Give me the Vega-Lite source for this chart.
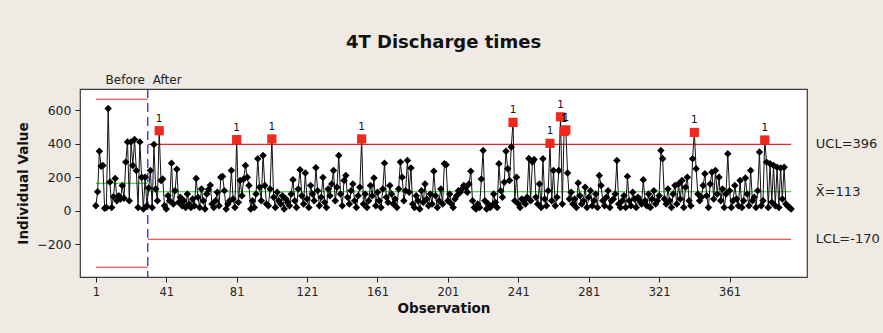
{
  "$schema": "https://vega.github.io/schema/vega-lite/v6.json",
  "autosize": "none",
  "width": 727,
  "height": 188,
  "padding": {"left": 80, "top": 89, "right": 76, "bottom": 56},
  "background": "#EFEBE4",
  "config": {
    "view": {"fill": "white", "stroke": "#3a3a3a", "strokeWidth": 1.2},
    "font": "DejaVu Sans",
    "axis": {"grid": false, "domain": false, "tickSize": 5, "tickColor": "#222", "labelFont": "DejaVu Sans", "labelColor": "#222", "labelPadding": 4, "titleFont": "DejaVu Sans", "titleFontSize": 13.5, "titleFontWeight": "bold", "titleColor": "#111"}
  },
  "title": {"text": "4T Discharge times", "fontSize": 18, "fontWeight": "bold", "font": "DejaVu Sans", "color": "#111", "offset": 22, "anchor": "middle"},
  "datasets": {
    "limits": [
      {"stage": "Before", "kind": "UCL", "obs": 1, "obs2": 30.5, "value": 665},
      {"stage": "Before", "kind": "CL", "obs": 1, "obs2": 30.5, "value": 164},
      {"stage": "Before", "kind": "LCL", "obs": 1, "obs2": 30.5, "value": -337},
      {"stage": "After", "kind": "UCL", "obs": 30.5, "obs2": 396, "value": 396},
      {"stage": "After", "kind": "CL", "obs": 30.5, "obs2": 396, "value": 113},
      {"stage": "After", "kind": "LCL", "obs": 30.5, "obs2": 396, "value": -170}
    ],
    "chart": [
      {"obs":1,"value":30},{"obs":2,"value":113},{"obs":3,"value":355},{"obs":4,"value":265},{"obs":5,"value":270},{"obs":6,"value":15},{"obs":7,"value":20},{"obs":8,"value":610},{"obs":9,"value":172},{"obs":10,"value":20},
      {"obs":11,"value":83},{"obs":12,"value":192},{"obs":13,"value":60},{"obs":14,"value":90},{"obs":15,"value":70},{"obs":16,"value":150},{"obs":17,"value":75},{"obs":18,"value":290},{"obs":19,"value":410},{"obs":20,"value":60},
      {"obs":21,"value":410},{"obs":22,"value":270},{"obs":23,"value":425},{"obs":24,"value":240},{"obs":25,"value":20},{"obs":26,"value":410},{"obs":27,"value":200},{"obs":28,"value":10},{"obs":29,"value":200},{"obs":30,"value":30},
      {"obs":31,"value":135},{"obs":32,"value":240},{"obs":33,"value":20},{"obs":34,"value":395},{"obs":35,"value":130},{"obs":36,"value":60},{"obs":37,"value":477},{"obs":38,"value":180},{"obs":39,"value":190},{"obs":40,"value":30},
      {"obs":41,"value":10},{"obs":42,"value":90},{"obs":43,"value":60},{"obs":44,"value":284},{"obs":45,"value":40},{"obs":46,"value":120},{"obs":47,"value":247},{"obs":48,"value":50},{"obs":49,"value":80},{"obs":50,"value":30},
      {"obs":51,"value":60},{"obs":52,"value":20},{"obs":53,"value":100},{"obs":54,"value":40},{"obs":55,"value":20},{"obs":56,"value":70},{"obs":57,"value":30},{"obs":58,"value":192},{"obs":59,"value":80},{"obs":60,"value":20},
      {"obs":61,"value":130},{"obs":62,"value":60},{"obs":63,"value":10},{"obs":64,"value":100},{"obs":65,"value":127},{"obs":66,"value":152},{"obs":67,"value":40},{"obs":68,"value":20},{"obs":69,"value":60},{"obs":70,"value":110},
      {"obs":71,"value":30},{"obs":72,"value":200},{"obs":73,"value":205},{"obs":74,"value":120},{"obs":75,"value":10},{"obs":76,"value":40},{"obs":77,"value":60},{"obs":78,"value":240},{"obs":79,"value":70},{"obs":80,"value":20},
      {"obs":81,"value":424},{"obs":82,"value":50},{"obs":83,"value":180},{"obs":84,"value":90},{"obs":85,"value":190},{"obs":86,"value":270},{"obs":87,"value":200},{"obs":88,"value":150},{"obs":89,"value":10},{"obs":90,"value":60},
      {"obs":91,"value":20},{"obs":92,"value":100},{"obs":93,"value":310},{"obs":94,"value":140},{"obs":95,"value":60},{"obs":96,"value":330},{"obs":97,"value":150},{"obs":98,"value":40},{"obs":99,"value":30},{"obs":100,"value":130},
      {"obs":101,"value":428},{"obs":102,"value":80},{"obs":103,"value":20},{"obs":104,"value":110},{"obs":105,"value":60},{"obs":106,"value":40},{"obs":107,"value":90},{"obs":108,"value":10},{"obs":109,"value":70},{"obs":110,"value":50},
      {"obs":111,"value":30},{"obs":112,"value":100},{"obs":113,"value":185},{"obs":114,"value":60},{"obs":115,"value":20},{"obs":116,"value":130},{"obs":117,"value":245},{"obs":118,"value":90},{"obs":119,"value":40},{"obs":120,"value":225},
      {"obs":121,"value":70},{"obs":122,"value":20},{"obs":123,"value":150},{"obs":124,"value":100},{"obs":125,"value":60},{"obs":126,"value":257},{"obs":127,"value":120},{"obs":128,"value":30},{"obs":129,"value":80},{"obs":130,"value":198},
      {"obs":131,"value":50},{"obs":132,"value":20},{"obs":133,"value":130},{"obs":134,"value":90},{"obs":135,"value":160},{"obs":136,"value":240},{"obs":137,"value":60},{"obs":138,"value":140},{"obs":139,"value":330},{"obs":140,"value":100},
      {"obs":141,"value":30},{"obs":142,"value":180},{"obs":143,"value":210},{"obs":144,"value":80},{"obs":145,"value":40},{"obs":146,"value":120},{"obs":147,"value":160},{"obs":148,"value":60},{"obs":149,"value":20},{"obs":150,"value":90},
      {"obs":151,"value":140},{"obs":152,"value":428},{"obs":153,"value":40},{"obs":154,"value":100},{"obs":155,"value":20},{"obs":156,"value":60},{"obs":157,"value":150},{"obs":158,"value":90},{"obs":159,"value":195},{"obs":160,"value":30},
      {"obs":161,"value":110},{"obs":162,"value":60},{"obs":163,"value":20},{"obs":164,"value":130},{"obs":165,"value":284},{"obs":166,"value":80},{"obs":167,"value":50},{"obs":168,"value":150},{"obs":169,"value":100},{"obs":170,"value":40},
      {"obs":171,"value":70},{"obs":172,"value":20},{"obs":173,"value":130},{"obs":174,"value":290},{"obs":175,"value":200},{"obs":176,"value":60},{"obs":177,"value":120},{"obs":178,"value":300},{"obs":179,"value":110},{"obs":180,"value":255},
      {"obs":181,"value":40},{"obs":182,"value":20},{"obs":183,"value":90},{"obs":184,"value":60},{"obs":185,"value":10},{"obs":186,"value":120},{"obs":187,"value":50},{"obs":188,"value":160},{"obs":189,"value":70},{"obs":190,"value":30},
      {"obs":191,"value":100},{"obs":192,"value":40},{"obs":193,"value":235},{"obs":194,"value":90},{"obs":195,"value":20},{"obs":196,"value":60},{"obs":197,"value":130},{"obs":198,"value":40},{"obs":199,"value":280},{"obs":200,"value":275},
      {"obs":201,"value":60},{"obs":202,"value":100},{"obs":203,"value":40},{"obs":204,"value":20},{"obs":205,"value":70},{"obs":206,"value":90},{"obs":207,"value":120},{"obs":208,"value":110},{"obs":209,"value":130},{"obs":210,"value":150},
      {"obs":211,"value":140},{"obs":212,"value":110},{"obs":213,"value":160},{"obs":214,"value":235},{"obs":215,"value":60},{"obs":216,"value":20},{"obs":217,"value":10},{"obs":218,"value":40},{"obs":219,"value":20},{"obs":220,"value":190},
      {"obs":221,"value":359},{"obs":222,"value":60},{"obs":223,"value":10},{"obs":224,"value":40},{"obs":225,"value":20},{"obs":226,"value":30},{"obs":227,"value":100},{"obs":228,"value":50},{"obs":229,"value":20},{"obs":230,"value":280},
      {"obs":231,"value":120},{"obs":232,"value":80},{"obs":233,"value":170},{"obs":234,"value":355},{"obs":235,"value":250},{"obs":236,"value":180},{"obs":237,"value":380},{"obs":238,"value":527},{"obs":239,"value":60},{"obs":240,"value":200},
      {"obs":241,"value":40},{"obs":242,"value":20},{"obs":243,"value":70},{"obs":244,"value":60},{"obs":245,"value":40},{"obs":246,"value":80},{"obs":247,"value":312},{"obs":248,"value":60},{"obs":249,"value":290},{"obs":250,"value":305},
      {"obs":251,"value":80},{"obs":252,"value":40},{"obs":253,"value":160},{"obs":254,"value":20},{"obs":255,"value":310},{"obs":256,"value":70},{"obs":257,"value":30},{"obs":258,"value":120},{"obs":259,"value":402},{"obs":260,"value":60},
      {"obs":261,"value":240},{"obs":262,"value":30},{"obs":263,"value":80},{"obs":264,"value":240},{"obs":265,"value":560},{"obs":266,"value":40},{"obs":267,"value":473},{"obs":268,"value":482},{"obs":269,"value":225},{"obs":270,"value":70},
      {"obs":271,"value":110},{"obs":272,"value":40},{"obs":273,"value":70},{"obs":274,"value":20},{"obs":275,"value":165},{"obs":276,"value":90},{"obs":277,"value":40},{"obs":278,"value":60},{"obs":279,"value":140},{"obs":280,"value":20},
      {"obs":281,"value":80},{"obs":282,"value":120},{"obs":283,"value":30},{"obs":284,"value":60},{"obs":285,"value":100},{"obs":286,"value":20},{"obs":287,"value":210},{"obs":288,"value":150},{"obs":289,"value":60},{"obs":290,"value":30},
      {"obs":291,"value":80},{"obs":292,"value":120},{"obs":293,"value":20},{"obs":294,"value":60},{"obs":295,"value":70},{"obs":296,"value":100},{"obs":297,"value":300},{"obs":298,"value":40},{"obs":299,"value":20},{"obs":300,"value":60},
      {"obs":301,"value":90},{"obs":302,"value":20},{"obs":303,"value":205},{"obs":304,"value":60},{"obs":305,"value":30},{"obs":306,"value":110},{"obs":307,"value":70},{"obs":308,"value":20},{"obs":309,"value":80},{"obs":310,"value":60},
      {"obs":311,"value":40},{"obs":312,"value":185},{"obs":313,"value":60},{"obs":314,"value":30},{"obs":315,"value":100},{"obs":316,"value":20},{"obs":317,"value":70},{"obs":318,"value":120},{"obs":319,"value":40},{"obs":320,"value":60},
      {"obs":321,"value":90},{"obs":322,"value":359},{"obs":323,"value":310},{"obs":324,"value":70},{"obs":325,"value":40},{"obs":326,"value":130},{"obs":327,"value":60},{"obs":328,"value":20},{"obs":329,"value":100},{"obs":330,"value":150},
      {"obs":331,"value":40},{"obs":332,"value":160},{"obs":333,"value":70},{"obs":334,"value":180},{"obs":335,"value":20},{"obs":336,"value":140},{"obs":337,"value":200},{"obs":338,"value":60},{"obs":339,"value":30},{"obs":340,"value":310},
      {"obs":341,"value":467},{"obs":342,"value":250},{"obs":343,"value":100},{"obs":344,"value":60},{"obs":345,"value":80},{"obs":346,"value":150},{"obs":347,"value":220},{"obs":348,"value":90},{"obs":349,"value":20},{"obs":350,"value":160},
      {"obs":351,"value":230},{"obs":352,"value":70},{"obs":353,"value":240},{"obs":354,"value":100},{"obs":355,"value":200},{"obs":356,"value":60},{"obs":357,"value":130},{"obs":358,"value":20},{"obs":359,"value":100},{"obs":360,"value":340},
      {"obs":361,"value":120},{"obs":362,"value":20},{"obs":363,"value":60},{"obs":364,"value":150},{"obs":365,"value":70},{"obs":366,"value":30},{"obs":367,"value":180},{"obs":368,"value":20},{"obs":369,"value":60},{"obs":370,"value":195},
      {"obs":371,"value":100},{"obs":372,"value":30},{"obs":373,"value":240},{"obs":374,"value":60},{"obs":375,"value":80},{"obs":376,"value":20},{"obs":377,"value":120},{"obs":378,"value":350},{"obs":379,"value":30},{"obs":380,"value":60},
      {"obs":381,"value":422},{"obs":382,"value":290},{"obs":383,"value":20},{"obs":384,"value":280},{"obs":385,"value":50},{"obs":386,"value":270},{"obs":387,"value":30},{"obs":388,"value":260},{"obs":389,"value":20},{"obs":390,"value":255},
      {"obs":391,"value":70},{"obs":392,"value":260},{"obs":393,"value":40},{"obs":394,"value":30},{"obs":395,"value":20},{"obs":396,"value":10}
    ]
  },
  "layer": [
    {
      "data": {"name": "limits"},
      "mark": {"type": "rule", "strokeWidth": 1.1},
      "encoding": {
        "x": {
          "field": "obs", "type": "quantitative",
          "scale": {"domain": [-8, 405], "nice": false, "zero": false},
          "axis": {"values": [1, 41, 81, 121, 161, 201, 241, 281, 321, 361], "title": "Observation", "labelFontSize": 11.5, "titlePadding": 4}
        },
        "x2": {"field": "obs2"},
        "y": {
          "field": "value", "type": "quantitative",
          "scale": {"domain": [-395, 726], "nice": false, "zero": false},
          "axis": {"values": [-200, 0, 200, 400, 600], "title": "Individual Value", "labelFontSize": 12.5, "titlePadding": 6}
        },
        "color": {"field": "kind", "type": "nominal", "scale": {"domain": ["UCL", "CL", "LCL"], "range": ["#D42A2F", "#22C822", "#D42A2F"]}, "legend": null}
      }
    },
    {
      "data": {"values": [{"stage": "Before", "obs": 30.5}]},
      "mark": {"type": "rule", "color": "#2233CC", "strokeDash": [9, 5], "strokeWidth": 1.3},
      "encoding": {
        "x": {"field": "obs", "type": "quantitative"}
      }
    },
    {
      "data": {"name": "chart"},
      "mark": {"type": "line", "color": "#111", "strokeWidth": 1},
      "encoding": {
        "x": {"field": "obs", "type": "quantitative"},
        "y": {"field": "value", "type": "quantitative"}
      }
    },
    {
      "data": {"name": "chart"},
      "mark": {"type": "point", "shape": "diamond", "filled": true, "color": "#000", "size": 56, "opacity": 1},
      "encoding": {
        "x": {"field": "obs", "type": "quantitative"},
        "y": {"field": "value", "type": "quantitative"}
      }
    },
    {
      "data": {"name": "chart"},
      "transform": [{"filter": "datum.obs > 30 && datum.value > 396"}],
      "mark": {"type": "square", "color": "#F0281E", "size": 85, "opacity": 1},
      "encoding": {
        "x": {"field": "obs", "type": "quantitative"},
        "y": {"field": "value", "type": "quantitative"}
      }
    },
    {
      "data": {"name": "chart"},
      "transform": [{"filter": "datum.obs > 30 && datum.value > 396"}],
      "mark": {"type": "text", "text": "1", "dy": -12, "fontSize": 10.5, "font": "DejaVu Sans", "color": "#111", "baseline": "middle"},
      "encoding": {
        "x": {"field": "obs", "type": "quantitative"},
        "y": {"field": "value", "type": "quantitative"}
      }
    },
    {
      "data": {"values": [{"label": "UCL=396", "value": 396}, {"label": "X̄=113", "value": 113}, {"label": "LCL=-170", "value": -170}]},
      "mark": {"type": "text", "align": "left", "baseline": "middle", "fontSize": 13, "font": "DejaVu Sans", "color": "#222"},
      "encoding": {
        "x": {"datum": 410, "type": "quantitative"},
        "y": {"field": "value", "type": "quantitative"},
        "text": {"field": "label"}
      }
    },
    {
      "data": {"values": [{"label": "Before", "obs": 30.5}]},
      "mark": {"type": "text", "align": "right", "baseline": "bottom", "dx": -3, "dy": -2, "fontSize": 12, "font": "DejaVu Sans", "color": "#222"},
      "encoding": {
        "x": {"field": "obs", "type": "quantitative"},
        "y": {"datum": 726, "type": "quantitative"},
        "text": {"field": "label"}
      }
    },
    {
      "data": {"values": [{"label": "After", "obs": 30.5}]},
      "mark": {"type": "text", "align": "left", "baseline": "bottom", "dx": 5, "dy": -2, "fontSize": 12, "font": "DejaVu Sans", "color": "#222"},
      "encoding": {
        "x": {"field": "obs", "type": "quantitative"},
        "y": {"datum": 726, "type": "quantitative"},
        "text": {"field": "label"}
      }
    }
  ]
}
